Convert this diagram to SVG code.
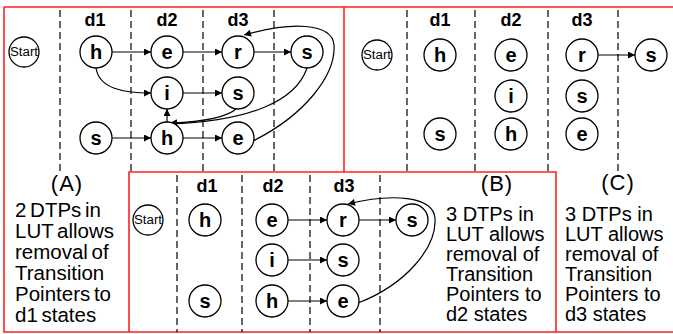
<svg xmlns="http://www.w3.org/2000/svg" width="673" height="334" viewBox="0 0 673 334">
<defs>
<marker id="ah" viewBox="0 0 10 10" refX="10" refY="5" markerWidth="9" markerHeight="7" markerUnits="userSpaceOnUse" orient="auto">
<path d="M0,0 L10,5 L0,10 Z" fill="#000"/>
</marker>
</defs>
<style>
.n circle{fill:#fff;stroke:#000;stroke-width:1.3}
.n text{font-family:"Liberation Sans",Arial,sans-serif;font-weight:bold;font-size:20px;text-anchor:middle}
.st text{font-weight:normal;font-size:12px}
.d{font-family:"Liberation Sans",Arial,sans-serif;font-weight:bold;font-size:18px;text-anchor:middle}
.dash{stroke:#000;stroke-width:1.2;stroke-dasharray:7,4;fill:none}
.frame{stroke:#ff2020;stroke-width:1.6;fill:none}
.e path{fill:none;stroke:#000;stroke-width:1.2;marker-end:url(#ah)}
.lbl{font-family:"Liberation Sans",Arial,sans-serif;font-size:22px;text-anchor:middle;letter-spacing:1px}
.desc{font-family:"Liberation Sans",Arial,sans-serif;font-size:20px}
.descA{font-family:"Liberation Sans",Arial,sans-serif;font-size:20.5px;word-spacing:-2px}
</style>
<rect width="673" height="334" fill="#fff"/>
<g id="frames">
<path class="frame" d="M4,7 H673 M4,7 V332 H673 M344,7 V172 M129,332 V172 H556 V332"/>
</g>
<g id="gridlines">
<path class="dash" d="M60,10 V172 M131,10 V172 M203,10 V172 M274,10 V172"/>
<path class="dash" d="M407,10 V172 M475,10 V172 M548,10 V172 M618,10 V172"/>
<path class="dash" d="M177,175 V332 M242,175 V332 M310,175 V332 M380,175 V332"/>
</g>
<g id="column-labels">
<text class="d" x="95" y="26">d1</text><text class="d" x="167" y="26">d2</text><text class="d" x="238" y="26">d3</text>
<text class="d" x="440" y="26">d1</text><text class="d" x="511" y="26">d2</text><text class="d" x="582" y="26">d3</text>
<text class="d" x="207" y="192">d1</text><text class="d" x="273" y="192">d2</text><text class="d" x="344" y="192">d3</text>
</g>
<g id="connectors" class="e">
<path d="M112,52 H151"/>
<path d="M183,52 H222"/>
<path d="M254,52 H291"/>
<path d="M96,68 C99,88 122,93 151,93"/>
<path d="M183,93 H222"/>
<path d="M112,138 H151"/>
<path d="M183,138 H222"/>
<path d="M167,122 V109"/>
<path d="M237,108 C226,119 198,122 170,123"/>
<path d="M307,68 C296,101 250,121 170,124"/>
<path d="M253,141 C305,115 336,75 334,45 C332,22 290,22 244,35"/>
<path d="M598,55 H635"/>
<path d="M288,220 H327"/>
<path d="M359,220 H396"/>
<path d="M288,260 H327"/>
<path d="M288,301 H327"/>
<path d="M358,303 C405,285 437,248 435,218 C433,196 392,193 348,204"/>
</g>
<g id="A-start" class="n st"><circle cx="24" cy="52" r="15"/><text x="24" y="56" textLength="28" lengthAdjust="spacingAndGlyphs">Start</text></g>
<g id="A-h1" class="n"><circle cx="96" cy="52" r="16"/><text x="96" y="59">h</text></g>
<g id="A-e2" class="n"><circle cx="167" cy="52" r="16"/><text x="167" y="59">e</text></g>
<g id="A-r3" class="n"><circle cx="238" cy="52" r="16"/><text x="238" y="59">r</text></g>
<g id="A-s4" class="n"><circle cx="307" cy="52" r="16"/><text x="307" y="59">s</text></g>
<g id="A-i2" class="n"><circle cx="167" cy="93" r="16"/><text x="167" y="100">i</text></g>
<g id="A-s3" class="n"><circle cx="238" cy="93" r="16"/><text x="238" y="100">s</text></g>
<g id="A-s1" class="n"><circle cx="96" cy="138" r="16"/><text x="96" y="145">s</text></g>
<g id="A-h2" class="n"><circle cx="167" cy="138" r="16"/><text x="167" y="145">h</text></g>
<g id="A-e3" class="n"><circle cx="238" cy="138" r="16"/><text x="238" y="145">e</text></g>

<g id="C-start" class="n st"><circle cx="377" cy="55" r="15"/><text x="377" y="59" textLength="28" lengthAdjust="spacingAndGlyphs">Start</text></g>
<g id="C-h1" class="n"><circle cx="440" cy="55" r="16"/><text x="440" y="62">h</text></g>
<g id="C-e2" class="n"><circle cx="511" cy="55" r="16"/><text x="511" y="62">e</text></g>
<g id="C-r3" class="n"><circle cx="582" cy="55" r="16"/><text x="582" y="62">r</text></g>
<g id="C-s4" class="n"><circle cx="651" cy="55" r="16"/><text x="651" y="62">s</text></g>
<g id="C-i2" class="n"><circle cx="511" cy="96" r="16"/><text x="511" y="103">i</text></g>
<g id="C-s3" class="n"><circle cx="582" cy="96" r="16"/><text x="582" y="103">s</text></g>
<g id="C-s1" class="n"><circle cx="440" cy="134" r="16"/><text x="440" y="141">s</text></g>
<g id="C-h2" class="n"><circle cx="511" cy="134" r="16"/><text x="511" y="141">h</text></g>
<g id="C-e3" class="n"><circle cx="582" cy="134" r="16"/><text x="582" y="141">e</text></g>

<g id="B-start" class="n st"><circle cx="148" cy="220" r="15"/><text x="148" y="224" textLength="28" lengthAdjust="spacingAndGlyphs">Start</text></g>
<g id="B-h1" class="n"><circle cx="205" cy="220" r="16"/><text x="205" y="227">h</text></g>
<g id="B-e2" class="n"><circle cx="272" cy="220" r="16"/><text x="272" y="227">e</text></g>
<g id="B-r3" class="n"><circle cx="343" cy="220" r="16"/><text x="343" y="227">r</text></g>
<g id="B-s4" class="n"><circle cx="412" cy="220" r="16"/><text x="412" y="227">s</text></g>
<g id="B-i2" class="n"><circle cx="272" cy="260" r="16"/><text x="272" y="267">i</text></g>
<g id="B-s3" class="n"><circle cx="343" cy="260" r="16"/><text x="343" y="267">s</text></g>
<g id="B-s1" class="n"><circle cx="205" cy="301" r="16"/><text x="205" y="308">s</text></g>
<g id="B-h2" class="n"><circle cx="272" cy="301" r="16"/><text x="272" y="308">h</text></g>
<g id="B-e3" class="n"><circle cx="343" cy="301" r="16"/><text x="343" y="308">e</text></g>

<g id="captions">
<text class="lbl" x="67" y="191">(A)</text>
<text class="lbl" x="497" y="191">(B)</text>
<text class="lbl" x="618" y="190">(C)</text>
<text class="descA" x="15" y="217">2 DTPs in</text>
<text class="descA" x="15" y="238">LUT allows</text>
<text class="descA" x="15" y="259">removal of</text>
<text class="descA" x="15" y="280">Transition</text>
<text class="descA" x="15" y="301">Pointers to</text>
<text class="descA" x="15" y="322">d1 states</text>
<text class="desc" x="446" y="221">3 DTPs in</text>
<text class="desc" x="446" y="241">LUT allows</text>
<text class="desc" x="446" y="261">removal of</text>
<text class="desc" x="446" y="281">Transition</text>
<text class="desc" x="446" y="301">Pointers to</text>
<text class="desc" x="446" y="321">d2 states</text>
<text class="desc" x="565" y="221">3 DTPs in</text>
<text class="desc" x="565" y="241">LUT allows</text>
<text class="desc" x="565" y="261">removal of</text>
<text class="desc" x="565" y="281">Transition</text>
<text class="desc" x="565" y="301">Pointers to</text>
<text class="desc" x="565" y="321">d3 states</text>
</g>
</svg>
